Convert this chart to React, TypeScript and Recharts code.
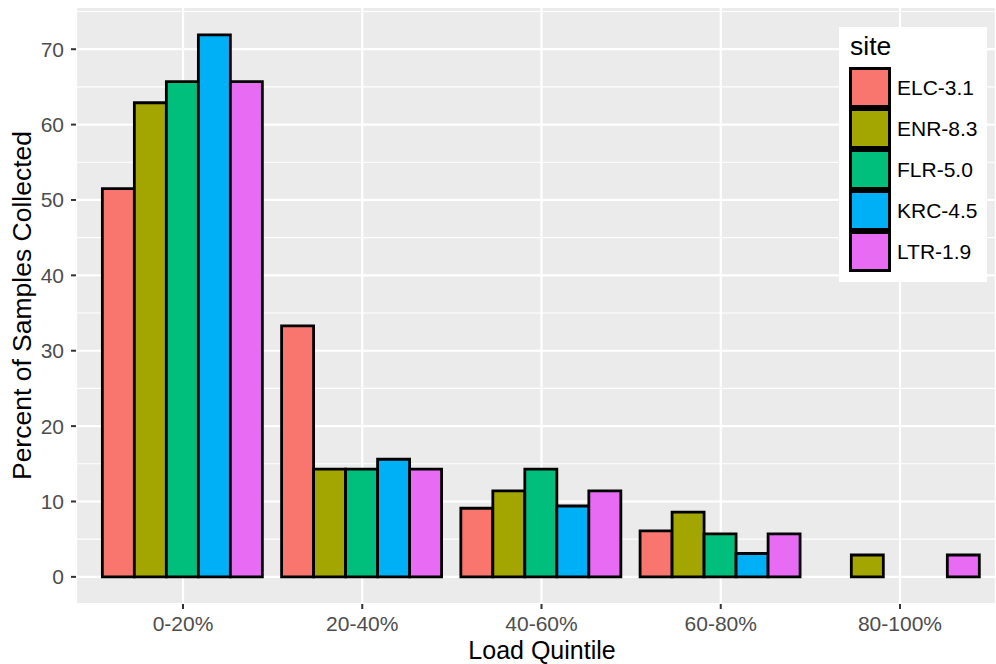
import { BarChart, Bar, XAxis, YAxis, CartesianGrid, Legend, Label } from 'recharts'

const FONT = '"Liberation Sans", Arial, Helvetica, sans-serif'

const categories = ['0-20%', '20-40%', '40-60%', '60-80%', '80-100%']
const sites = ['ELC-3.1', 'ENR-8.3', 'FLR-5.0', 'KRC-4.5', 'LTR-1.9']
const colors = ['#F8766D', '#A3A500', '#00BF7D', '#00B0F6', '#E76BF3']

// percent of samples per load quintile (null = no bar)
const elc = [51.5, 33.3, 9.1, 6.1, null]
const enr = [62.9, 14.3, 11.4, 8.6, 2.9]
const flr = [65.7, 14.3, 14.3, 5.7, null]
const krc = [71.9, 15.6, 9.4, 3.1, null]
const ltr = [65.7, 14.3, 11.4, 5.7, 2.9]

const yTicks = [0, 10, 20, 30, 40, 50, 60, 70]
const yMinor = [5, 15, 25, 35, 45, 55, 65, 75]

const series = [elc, enr, flr, krc, ltr]
const data = categories.map((quintile, i) => {
  const row: Record<string, string | number | null> = { quintile }
  sites.forEach((s, j) => {
    row[s] = series[j][i]
  })
  return row
})

function SiteLegend({ payload }: any) {
  return (
    <div
      style={{
        position: 'relative',
        width: 148,
        height: 255,
        background: '#fff',
        fontFamily: FONT,
      }}
    >
      <div
        style={{
          position: 'absolute',
          left: 11,
          top: 6,
          fontSize: 26.5,
          lineHeight: 1,
          color: '#000',
        }}
      >
        site
      </div>
      {(payload || []).map((entry: any, i: number) => (
        <div
          key={entry.value}
          style={{
            position: 'absolute',
            left: 10,
            top: 40 + i * 41,
            height: 41,
            display: 'flex',
            alignItems: 'center',
          }}
        >
          <div
            style={{
              width: 42,
              height: 41,
              boxSizing: 'border-box',
              border: '3px solid #000',
              background: entry.color,
            }}
          />
          <span style={{ marginLeft: 6, fontSize: 21, color: '#000', lineHeight: 1 }}>
            {entry.value}
          </span>
        </div>
      ))}
    </div>
  )
}

export default function App() {
  return (
    <div style={{ position: 'absolute', left: 0, top: 0, background: '#fff' }}>
      <BarChart
        width={996}
        height={664}
        data={data}
        margin={{ top: 7, right: 0, bottom: 0, left: 0 }}
        barGap={0}
        barCategoryGap='5%'
      >
        <CartesianGrid
          fill='#EBEBEB'
          stroke='#FFFFFF'
          strokeWidth={2.2}
        />
        <CartesianGrid
          horizontalValues={yMinor}
          vertical={false}
          stroke='#FFFFFF'
          strokeWidth={1.1}
        />
        <XAxis
          dataKey='quintile'
          height={60}
          interval={0}
          padding={{ left: 17.4, right: 6.4 }}
          axisLine={false}
          tickSize={5}
          tickMargin={7}
          tickLine={{ stroke: '#333333', strokeWidth: 2 }}
          tick={{ fill: '#4D4D4D', fontSize: 21, fontFamily: FONT }}
        >
          <Label
            content={() => (
              <text
                x={542}
                y={658.5}
                textAnchor='middle'
                fontSize={25}
                fontFamily={FONT}
                fill='#000'
              >
                Load Quintile
              </text>
            )}
          />
        </XAxis>
        <YAxis
          type='number'
          width={76}
          domain={[-3.6, 75.6]}
          ticks={yTicks}
          interval={0}
          allowDataOverflow
          axisLine={false}
          tickSize={5}
          tickMargin={7}
          tickLine={{ stroke: '#333333', strokeWidth: 2 }}
          tick={{ fill: '#4D4D4D', fontSize: 21, fontFamily: FONT }}
        >
          <Label
            content={() => (
              <text
                transform='translate(31, 305.5) rotate(-90)'
                textAnchor='middle'
                fontSize={26.5}
                fontFamily={FONT}
                fill='#000'
              >
                Percent of Samples Collected
              </text>
            )}
          />
        </YAxis>
        <Legend
          layout='vertical'
          align='center'
          verticalAlign='middle'
          content={<SiteLegend />}
          wrapperStyle={{ top: 27, left: 839, width: 148, height: 255 }}
        />
        {sites.map((s, j) => (
          <Bar
            key={s}
            dataKey={s}
            name={s}
            fill={colors[j]}
            stroke='#000'
            strokeWidth={2.8}
            isAnimationActive={false}
          />
        ))}
      </BarChart>
    </div>
  )
}
